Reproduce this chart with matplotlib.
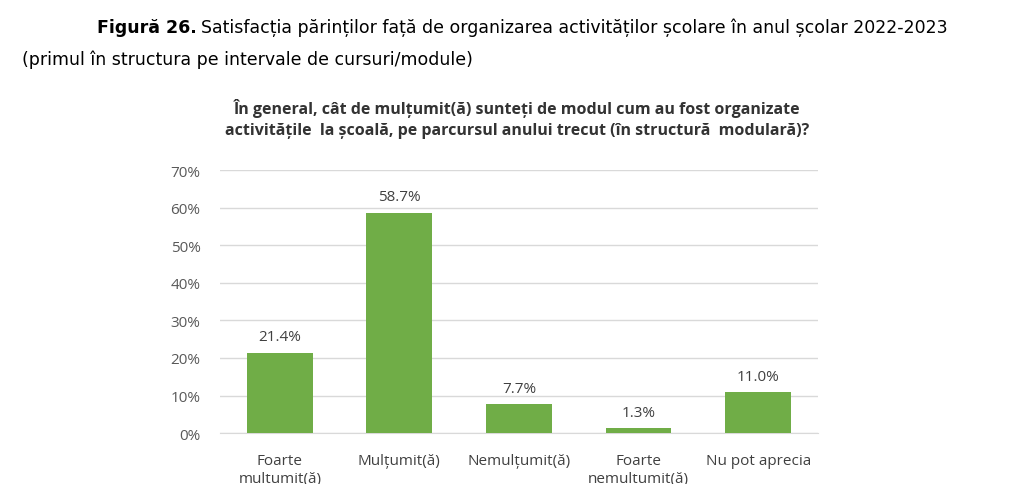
import matplotlib.pyplot as plt
from matplotlib.ticker import PercentFormatter

categorii = ["Foarte\nmulțumit(ă)", "Mulțumit(ă)", "Nemulțumit(ă)", "Foarte\nnemulțumit(ă)", "Nu pot aprecia"]
valori = [21.4, 58.7, 7.7, 1.3, 11.0]
etichete = ["21.4%", "58.7%", "7.7%", "1.3%", "11.0%"]

verde = "#70AD47"
gri = "#595959"

fig = plt.figure(figsize=(10.24, 4.85), dpi=100)
ax = fig.add_axes([0.2148, 0.105, 0.584, 0.542])

x = range(len(categorii))
bare = ax.bar(x, valori, width=0.55, color=verde, zorder=3)
for b, e in zip(bare, etichete):
    ax.text(b.get_x() + b.get_width() / 2, b.get_height() + 2.2, e,
            ha="center", va="bottom", fontsize=11, color="#404040",
            family="Open Sans")

ax.set_xlim(-0.5, len(categorii) - 0.5)
ax.set_ylim(0, 70)
ax.set_yticks(range(0, 71, 10))
ax.yaxis.set_major_formatter(PercentFormatter(decimals=0))
ax.set_xticks(list(x))
ax.set_xticklabels(categorii, fontsize=11, color="#404040", family="Open Sans",
                   linespacing=1.3)
for t in ax.get_yticklabels():
    t.set_fontsize(11)
    t.set_color(gri)
    t.set_family("Open Sans")
ax.tick_params(axis="both", length=0)
ax.tick_params(axis="y", pad=14)
ax.tick_params(axis="x", pad=14)
ax.grid(axis="y", color="#D9D9D9", linewidth=1, zorder=0)
for s in ["top", "right", "left"]:
    ax.spines[s].set_visible(False)
ax.spines["bottom"].set_color("#D9D9D9")

fig.text(0.505, 1 - 119 / 485,
         "În general, cât de mulțumit(ă) sunteți de modul cum au fost organizate\n"
         "activitățile  la școală, pe parcursul anului trecut (în structură  modulară)?",
         ha="center", va="center", fontsize=11.5, fontweight="bold",
         color="#333333", family="Open Sans", linespacing=1.45)

# legenda figurii: partea ingrosata + restul
fig.canvas.draw()
r = fig.canvas.get_renderer()
t1 = fig.text(97 / 1024, 1 - 28 / 485, "Figură 26.", ha="left", va="center",
              fontsize=12.5, fontweight="bold", family="DejaVu Sans")
bb = t1.get_window_extent(renderer=r)
fig.text((bb.x1 + 4) / fig.bbox.width, 1 - 28 / 485,
         "Satisfacția părinților față de organizarea activităților școlare în anul școlar 2022-2023",
         ha="left", va="center", fontsize=12.5, family="DejaVu Sans")
fig.text(22 / 1024, 1 - 60 / 485, "(primul în structura pe intervale de cursuri/module)",
         ha="left", va="center", fontsize=12.5, family="DejaVu Sans")

fig.savefig("out.png", dpi=100)
